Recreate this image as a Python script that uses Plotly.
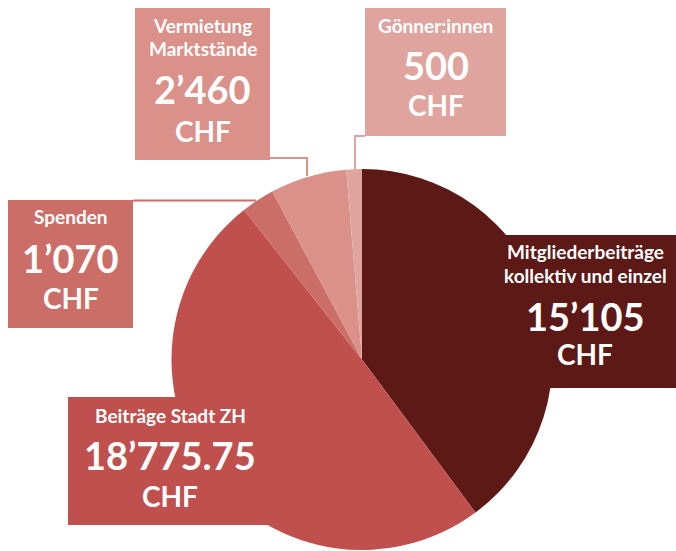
import plotly.graph_objects as go

W, H = 676, 551

categories = ["Mitgliederbeiträge kollektiv und einzel", "Beiträge Stadt ZH", "Spenden",
              "Vermietung Marktstände", "Gönner:innen"]
values = [15105, 18775.75, 1070, 2460, 500]
value_labels = ["15’105", "18’775.75", "1’070", "2’460", "500"]
title_lines = [["Mitgliederbeiträge", "kollektiv und einzel"], ["Beiträge Stadt ZH"], ["Spenden"],
               ["Vermietung", "Marktstände"], ["Gönner:innen"]]
colors = ["#5c1916", "#c0504d", "#cc6e68", "#d99189", "#e0a49e"]

FONT = "Lato"

def px(x):
    return x / W

def py(y):
    return 1 - y / H

cx, cy, r = 362, 359.5, 190.5

fig = go.Figure(go.Pie(
    labels=categories, values=values, sort=False, direction="clockwise", rotation=0,
    marker=dict(colors=colors, line=dict(width=0)), textinfo="none", hoverinfo="label+value",
    domain=dict(x=[px(cx - r), px(cx + r)], y=[py(cy + r), py(cy - r)]),
))

shapes = []
annotations = []

boxes = [
    (0, 494, 235, 676, 388, 585, [252, 275], 316, 354),
    (1, 68, 397, 272, 525, 170, [415], 455, 496),
    (2, 8, 200, 133, 328, 70.5, [217], 258, 298),
    (3, 135, 8, 270, 160, 202.5, [25, 48], 89, 131),
    (4, 365, 8, 506, 136, 435.5, [25], 65, 105),
]

for i, x0, y0, x1, y1, tx, ty_lines, ty_val, ty_chf in boxes:
    shapes.append(dict(type="rect", xref="paper", yref="paper", x0=px(x0), x1=px(x1),
                       y0=py(y1), y1=py(y0), fillcolor=colors[i], line=dict(width=0), layer="below"))
    for t, ty in zip(title_lines[i], ty_lines):
        annotations.append(dict(x=px(tx), y=py(ty), xref="paper", yref="paper", text="<b>%s</b>" % t,
                                showarrow=False, xanchor="center", yanchor="middle",
                                font=dict(family=FONT, size=19, color="white")))
    annotations.append(dict(x=px(tx), y=py(ty_val), xref="paper", yref="paper",
                            text="<b>%s</b>" % value_labels[i], showarrow=False,
                            xanchor="center", yanchor="middle",
                            font=dict(family=FONT, size=38, color="white")))
    annotations.append(dict(x=px(tx), y=py(ty_chf), xref="paper", yref="paper", text="<b>CHF</b>",
                            showarrow=False, xanchor="center", yanchor="middle",
                            font=dict(family=FONT, size=28, color="white")))

connectors = [
    (2, [(133, 200.5), (256, 200.5)]),
    (3, [(270, 158), (307, 158), (307, 176)]),
    (4, [(365, 136), (355, 136), (355, 172)]),
]
for i, pts in connectors:
    path = "M " + " L ".join("%f,%f" % (px(x), py(y)) for x, y in pts)
    shapes.append(dict(type="path", xref="paper", yref="paper", path=path,
                       line=dict(color=colors[i], width=2), layer="below"))

fig.update_layout(
    width=W, height=H, margin=dict(l=0, r=0, t=0, b=0), showlegend=False,
    paper_bgcolor="white", plot_bgcolor="white", shapes=shapes, annotations=annotations,
)

fig.write_html("out.html", config={"displayModeBar": False},
               post_script="document.body.style.margin='0';document.body.style.overflow='hidden';")
